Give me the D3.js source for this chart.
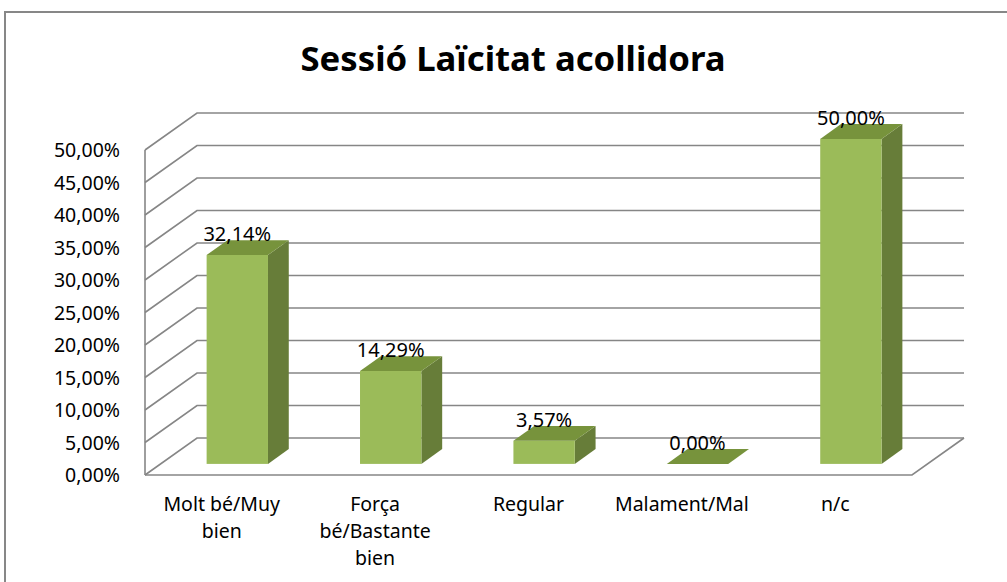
<!DOCTYPE html>
<html>
<head>
<meta charset="utf-8">
<script src="https://cdn.jsdelivr.net/npm/d3@7"></script>
<style>
  body { margin: 0; background: #fff; }
  svg text { font-family: "Noto Sans", "Open Sans", sans-serif; fill: #000; }
</style>
</head>
<body>
<div id="chart"></div>
<script>
const width = 1007,
  height = 582,
  margin = { top: 150, bottom: 107, left: 145, right: 95 };

// data
const categories = ["Molt bé/Muy bien", "Força bé/Bastante bien", "Regular", "Malament/Mal", "n/c"];
const labelLines = [["Molt bé/Muy", "bien"], ["Força", "bé/Bastante", "bien"], ["Regular"], ["Malament/Mal"], ["n/c"]];
const values = [0.3214, 0.1429, 0.0357, 0.0, 0.5];
const valueLabels = ["32,14%", "14,29%", "3,57%", "0,00%", "50,00%"];
const yTicks = [0, 0.05, 0.1, 0.15, 0.2, 0.25, 0.3, 0.35, 0.4, 0.45, 0.5];

// depth of the 3d box
const depth = { dx: 52, dy: -37 };
const barDepth = [0.3, 0.7];

const svg = d3.select("#chart")
  .append("svg")
  .attr("width", width)
  .attr("height", height);

// outer frame
svg.append("rect")
  .attr("x", 5).attr("y", 12)
  .attr("width", width + 10).attr("height", height + 10)
  .attr("fill", "none")
  .attr("stroke", "#878787")
  .attr("stroke-width", 2);

svg.append("text")
  .attr("x", 513)
  .attr("y", 71)
  .attr("text-anchor", "middle")
  .attr("textLength", 425)
  .attr("lengthAdjust", "spacingAndGlyphs")
  .style("font-size", "34px")
  .style("font-weight", "bold")
  .text("Sessió Laïcitat acollidora");

const xScale = d3.scaleBand()
  .domain(categories)
  .range([margin.left, width - margin.right]);

const yScale = d3.scaleLinear()
  .domain([0, 0.5])
  .range([height - margin.bottom, margin.top]);

const grid = svg.append("g")
  .attr("stroke", "#868686")
  .attr("stroke-width", 1.6)
  .attr("fill", "none");

const x0 = margin.left, x1 = width - margin.right;

// back wall gridlines + left wall diagonals
yTicks.forEach(t => {
  const y = yScale(t);
  grid.append("path")
    .attr("d", `M${x0},${y}L${x0 + depth.dx},${y + depth.dy}L${x1 + depth.dx},${y + depth.dy}`);
});
// left wall front edge
grid.append("line")
  .attr("x1", x0).attr("x2", x0)
  .attr("y1", yScale(0.5)).attr("y2", yScale(0));
// floor front and right edges
grid.append("path")
  .attr("d", `M${x0},${yScale(0)}L${x1},${yScale(0)}L${x1 + depth.dx},${yScale(0) + depth.dy}`);

// y tick labels
svg.append("g")
  .selectAll("text")
  .data(yTicks)
  .join("text")
  .attr("x", 120)
  .attr("y", d => yScale(d))
  .attr("dy", "0.36em")
  .attr("text-anchor", "end")
  .style("font-size", "19.5px")
  .text(d => d3.format(".2f")(d * 100).replace(".", ",") + "%");

// bars
const bw = xScale.bandwidth() * 0.4;
const fx = barDepth[0] * depth.dx, fy = barDepth[0] * depth.dy;
const sx = (barDepth[1] - barDepth[0]) * depth.dx, sy = (barDepth[1] - barDepth[0]) * depth.dy;

const bars = svg.append("g")
  .selectAll("g")
  .data(categories)
  .join("g");

bars.each(function(c, i) {
  const g = d3.select(this);
  const cx = xScale(c) + xScale.bandwidth() / 2 + fx;
  const left = cx - bw / 2, right = cx + bw / 2;
  const bottom = yScale(0) + fy;
  const top = yScale(values[i]) + fy;
  // side
  g.append("path")
    .attr("d", `M${right},${bottom}L${right + sx},${bottom + sy}L${right + sx},${top + sy}L${right},${top}Z`)
    .attr("fill", "#677d39");
  // front
  if (values[i] > 0) {
    g.append("rect")
      .attr("x", left).attr("y", top)
      .attr("width", bw).attr("height", bottom - top)
      .attr("fill", "#9bbb59");
  }
  // top
  g.append("path")
    .attr("d", `M${left},${top}L${left + sx},${top + sy}L${right + sx},${top + sy}L${right},${top}Z`)
    .attr("fill", "#77933c");
  // value label
  g.append("text")
    .attr("x", cx)
    .attr("y", top + sy + 1)
    .attr("text-anchor", "middle")
    .style("font-size", "20px")
    .text(valueLabels[i]);
});

// category labels
svg.append("g")
  .selectAll("text")
  .data(categories)
  .join("text")
  .attr("x", d => xScale(d) + xScale.bandwidth() / 2)
  .attr("y", 511)
  .attr("text-anchor", "middle")
  .style("font-size", "19.5px")
  .each(function(d, i) {
    d3.select(this)
      .selectAll("tspan")
      .data(labelLines[i])
      .join("tspan")
      .attr("x", xScale(d) + xScale.bandwidth() / 2)
      .attr("dy", (l, j) => j === 0 ? 0 : 27)
      .text(l => l);
  });
</script>
</body>
</html>
